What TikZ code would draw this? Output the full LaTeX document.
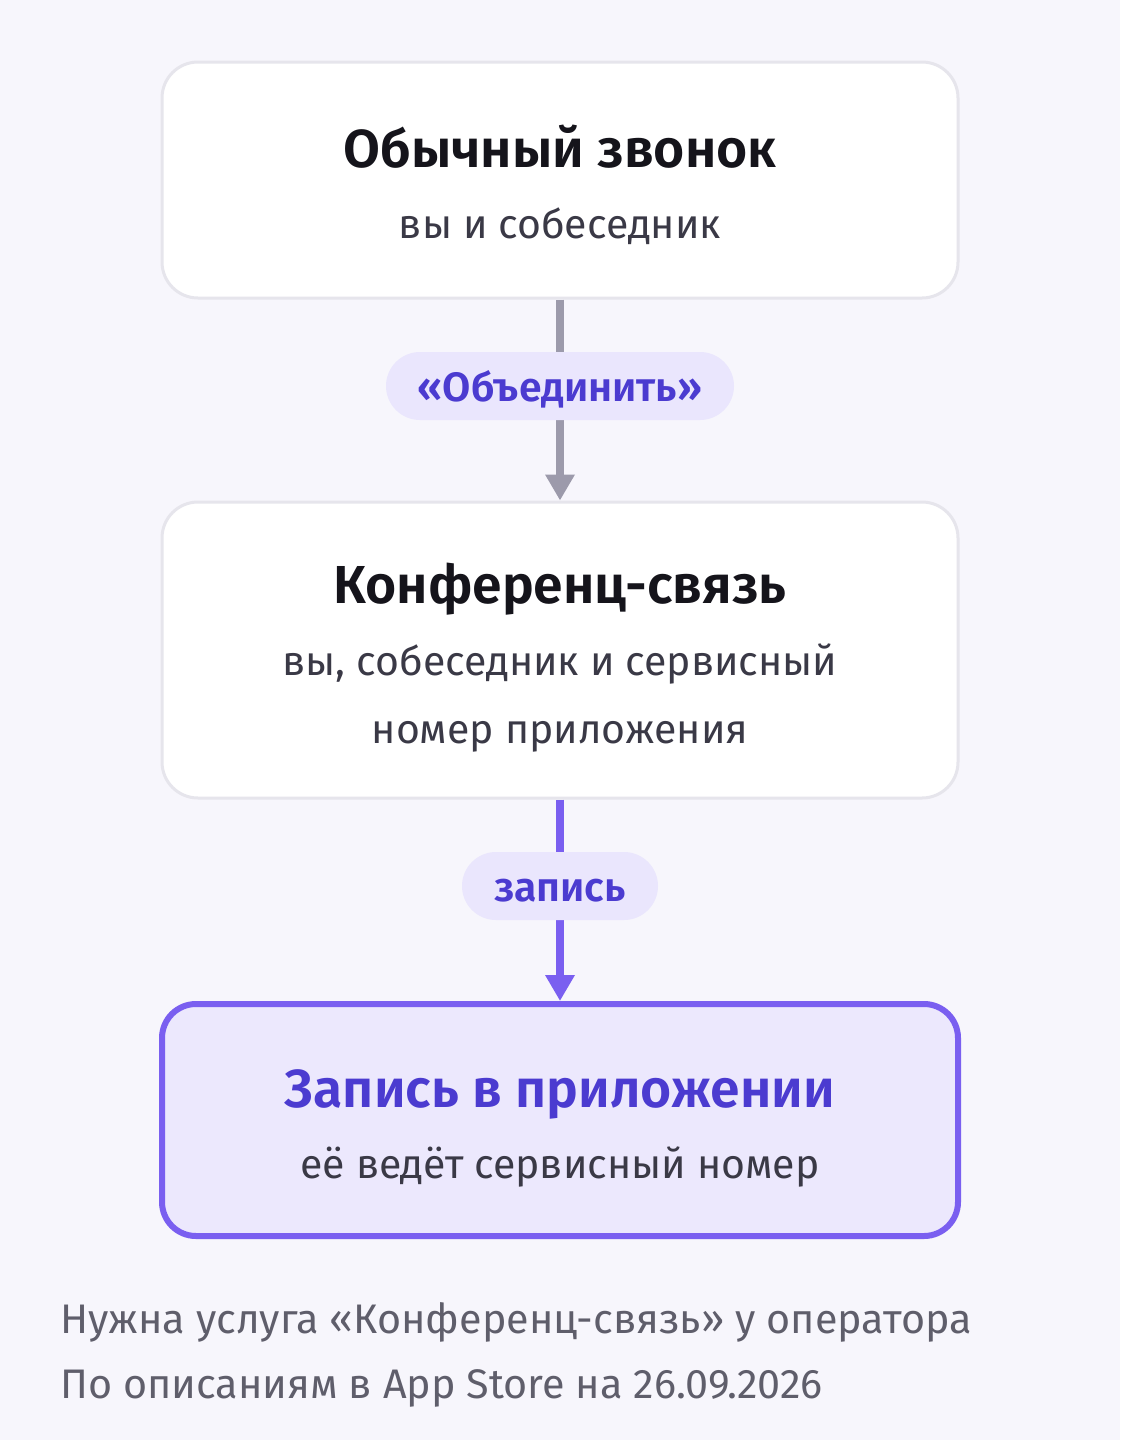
\documentclass[tikz,border=0pt]{standalone}
\usepackage{fontspec}
\setmainfont{Fira Sans}[BoldFont={Fira Sans SemiBold}]
\usetikzlibrary{arrows.meta}
\definecolor{bgc}{HTML}{F7F6FC}
\definecolor{boxline}{HTML}{E6E5EC}
\definecolor{titlec}{HTML}{15141B}
\definecolor{subc}{HTML}{3A3946}
\definecolor{grayarrow}{HTML}{9C9AAB}
\definecolor{pillfill}{HTML}{EAE6FD}
\definecolor{pilltext}{HTML}{4B3BD0}
\definecolor{purp}{HTML}{7A5FF0}
\definecolor{hifill}{HTML}{ECE8FD}
\definecolor{footc}{HTML}{5F5E6B}
\tikzset{
  card/.style={draw=boxline, line width=3pt, fill=white, rounded corners=36pt, minimum width=796pt, inner sep=0pt},
  hicard/.style={draw=purp, line width=6pt, fill=hifill, rounded corners=34pt, minimum width=796pt, inner sep=0pt},
  ttl/.style={anchor=base, inner sep=0pt, text=titlec, font=\bfseries\fontsize{53.5}{60}\selectfont},
  sub/.style={anchor=base, inner sep=0pt, text=subc, font=\fontsize{41}{48}\selectfont},
  pill/.style={fill=pillfill, rounded corners=34pt, minimum height=68pt, inner sep=0pt},
  pilltxt/.style={anchor=base, inner sep=0pt, text=pilltext, font=\bfseries\fontsize{41}{44}\selectfont},
  foot/.style={anchor=base west, inner sep=0pt, text=footc, font=\fontsize{41.3}{48}\selectfont},
  conn/.style={line width=8pt, -{Triangle[width=28pt,length=26pt]}},
}
\begin{document}
\begin{tikzpicture}[x=1pt,y=-1pt]
\fill[bgc] (0,0) rectangle (1120,1440);
\useasboundingbox (0,0) rectangle (1120,1440);
% cards
\node[card, minimum height=236pt] (b1) at (560,180) {};
\node[card, minimum height=296pt] (b2) at (560,650) {};
\node[hicard, minimum height=232pt] (b3) at (560,1120) {};
% texts
\node[ttl] (t1) at (560,167) {Обычный звонок};
\node[sub] (s1) at (560,238) {вы и собеседник};
\node[ttl] (t2) at (560,603) {Конференц-связь};
\node[sub] (s2a) at (560,675) {вы, собеседник и сервисный};
\node[sub] (s2b) at (560,743) {номер приложения};
\node[ttl, text=pilltext] (t3) at (560,1107) {Запись в приложении};
\node[sub] (s3) at (560,1178) {её ведёт сервисный номер};
% connectors
\draw[conn, grayarrow] (b1.south) -- (b2.north);
\draw[conn, purp] (b2.south) -- (b3.north);
% pills
\node[pill, minimum width=348pt] (p1) at (560,386) {};
\node[pilltxt] (p1t) at (560,401) {«Объединить»};
\node[pill, minimum width=196pt] (p2) at (560,886) {};
\node[pilltxt] (p2t) at (560,901) {запись};
% footer
\node[foot] (f1) at (60,1333) {Нужна услуга «Конференц-связь» у оператора};
\node[foot] (f2) at (60,1398) {По описаниям в App Store на 26.09.2026};
\end{tikzpicture}
\end{document}
